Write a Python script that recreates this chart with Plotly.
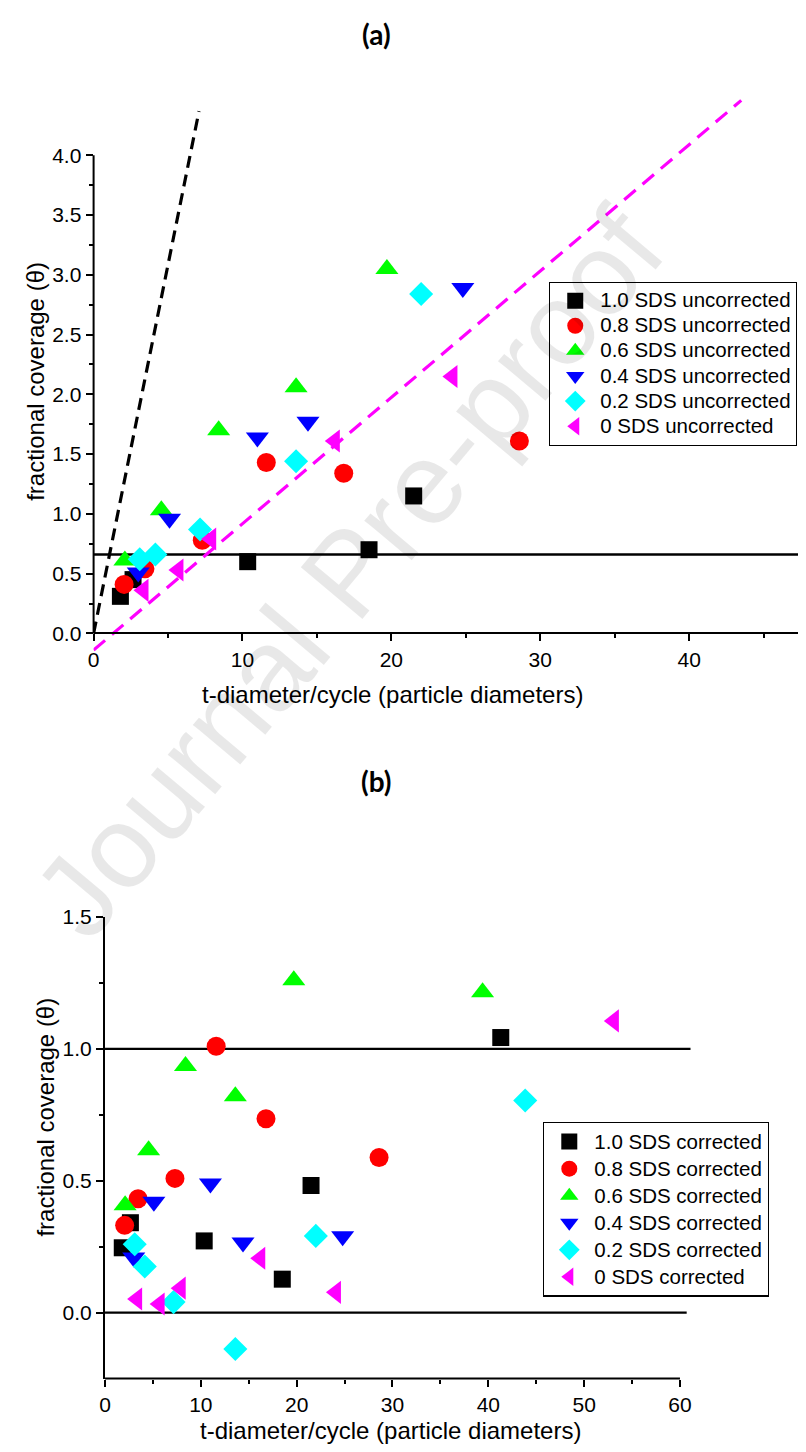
import plotly.graph_objects as go

# The page body has an 8px default margin, so the figure is drawn 8px smaller
# and every window-pixel position below is converted with that offset.
WIN_W, WIN_H = 806, 1452
OFF = 8
W, H = WIN_W - OFF, WIN_H - OFF

# ---------------- data ----------------
# x: t-diameter/cycle (particle diameters), shared by both panels
x_sds10 = [1.8, 2.65, 10.35, 18.5, 21.5, 41.3]
x_sds08 = [2.05, 3.45, 7.3, 11.6, 16.8, 28.6]
x_sds06 = [2.1, 4.55, 8.4, 13.6, 19.7, 39.4]
x_sds04 = [3.0, 5.1, 11.0, 14.4, 24.8]
x_sds02 = [3.1, 4.15, 7.15, 13.6, 22.0, 43.85]
x_sds00 = [3.35, 5.7, 7.9, 16.2, 24.1, 53.1]

# panel (a): uncorrected fractional coverage (points visible inside the axes)
ya_sds10 = [0.31, 0.45, 0.60, 0.70, 1.15]
ya_sds08 = [0.41, 0.54, 0.78, 1.43, 1.34, 1.61]
ya_sds06 = [0.61, 1.03, 1.70, 2.06, 3.05]
ya_sds04 = [0.51, 0.96, 1.64, 1.77, 2.89]
ya_sds02 = [0.62, 0.66, 0.87, 1.44, 2.84]
ya_sds00 = [0.36, 0.53, 0.79, 1.61, 2.15]

# panel (b): corrected fractional coverage
yb_sds10 = [0.246, 0.341, 0.272, 0.127, 0.482, 1.043]
yb_sds08 = [0.331, 0.432, 0.509, 1.01, 0.735, 0.588]
yb_sds06 = [0.407, 0.616, 0.935, 0.82, 1.26, 1.215]
yb_sds04 = [0.209, 0.42, 0.49, 0.266, 0.29]
yb_sds02 = [0.259, 0.175, 0.04, -0.138, 0.291, 0.804]
yb_sds00 = [0.052, 0.033, 0.093, 0.206, 0.077, 1.106]

series_labels = ["1.0 SDS", "0.8 SDS", "0.6 SDS", "0.4 SDS", "0.2 SDS", "0 SDS"]

# reference / guide lines
guide_black_x = [0, 7.08]
guide_black_y = [0, 4.37]
fit_magenta_x = [0, 43.5]
fit_magenta_y = [-0.14, 4.46]
level_a_x = [0, 47.85]
level_a_y = [0.66, 0.66]
level_b1_x = [0, 61.1]
level_b1_y = [1.0, 1.0]
level_b0_x = [0, 60.7]
level_b0_y = [0.0, 0.0]

# tick labels
xa_ticks = [0, 10, 20, 30, 40]
xa_minor = [5, 15, 25, 35, 45]
ya_ticks = [0, 0.5, 1.0, 1.5, 2.0, 2.5, 3.0, 3.5, 4.0]
ya_minor = [0.25, 0.75, 1.25, 1.75, 2.25, 2.75, 3.25, 3.75]
xb_ticks = [0, 10, 20, 30, 40, 50, 60]
xb_minor = [5, 15, 25, 35, 45, 55]
yb_ticks = [0, 0.5, 1.0, 1.5]
yb_minor = [0.25, 0.75, 1.25]

# ---------------- styling ----------------
colors = ["#000000", "#FF0000", "#00FF00", "#0000FF", "#00FFFF", "#FF00FF"]
symbols = ["square", "circle", "triangle-up", "triangle-down", "diamond", "triangle-left"]
sizes = [17, 19, 20, 20, 18.5, 20]
FONT = "Liberation Sans, Arial, sans-serif"
LEGEND_TEXT_PX = 20.5

xs = [x_sds10, x_sds08, x_sds06, x_sds04, x_sds02, x_sds00]
yas = [ya_sds10, ya_sds08, ya_sds06, ya_sds04, ya_sds02, ya_sds00]
ybs = [yb_sds10, yb_sds08, yb_sds06, yb_sds04, yb_sds02, yb_sds00]


def px_x(p):
    return min(1.0, max(0.0, (p - OFF) / W))


def px_y(p):
    return min(1.0, max(0.0, 1 - (p - OFF) / H))


def legend_name(label):
    # text drawn at LEGEND_TEXT_PX while the legend row spacing follows the legend font size
    return '<span style="font-size:%spx">%s</span>' % (LEGEND_TEXT_PX, label)


fig = go.Figure()

# panel (a) lines
fig.add_trace(go.Scatter(x=level_a_x, y=level_a_y, mode="lines", line=dict(color="black", width=2.6),
                         xaxis="x", yaxis="y", showlegend=False, hoverinfo="skip"))
fig.add_trace(go.Scatter(x=guide_black_x, y=guide_black_y, mode="lines",
                         line=dict(color="black", width=3.2, dash="12px,7px"),
                         xaxis="x", yaxis="y", showlegend=False, hoverinfo="skip"))
fig.add_trace(go.Scatter(x=fit_magenta_x, y=fit_magenta_y, mode="lines",
                         line=dict(color="#FF00FF", width=3.2, dash="15px,9px"),
                         xaxis="x", yaxis="y", showlegend=False, hoverinfo="skip"))
# panel (b) lines
fig.add_trace(go.Scatter(x=level_b1_x, y=level_b1_y, mode="lines", line=dict(color="black", width=2.2),
                         xaxis="x2", yaxis="y2", showlegend=False, hoverinfo="skip"))
fig.add_trace(go.Scatter(x=level_b0_x, y=level_b0_y, mode="lines", line=dict(color="black", width=2.2),
                         xaxis="x2", yaxis="y2", showlegend=False, hoverinfo="skip"))

for i in range(6):
    ya = yas[i]
    fig.add_trace(go.Scatter(
        x=xs[i][:len(ya)], y=ya, mode="markers", name=legend_name(series_labels[i] + " uncorrected"),
        marker=dict(symbol=symbols[i], size=sizes[i], color=colors[i], line=dict(width=0)),
        xaxis="x", yaxis="y", legend="legend", cliponaxis=False))
for i in range(6):
    yb = ybs[i]
    fig.add_trace(go.Scatter(
        x=xs[i][:len(yb)], y=yb, mode="markers", name=legend_name(series_labels[i] + " corrected"),
        marker=dict(symbol=symbols[i], size=sizes[i], color=colors[i], line=dict(width=0)),
        xaxis="x2", yaxis="y2", legend="legend2", cliponaxis=False))

tickfont = dict(family=FONT, size=21, color="black")
common = dict(showgrid=False, zeroline=False, ticks="outside", ticklen=7, tickwidth=2,
              tickcolor="black", tickfont=tickfont, linecolor="black", linewidth=2)

# panel (a) geometry (window pixels)
a_left, a_right = 88.2, 806
a_top, a_bot = 84.25, 645.8
a_zero = 626.5
# panel (b) geometry (window pixels)
b_left, b_right = 99.7, 690.6
b_top, b_bot = 912.5, 1378.0

fig.update_layout(
    width=W, height=H, margin=dict(l=0, r=0, t=0, b=0),
    paper_bgcolor="white", plot_bgcolor="white",
    xaxis=dict(domain=[px_x(a_left), px_x(a_right)], range=[0, 47.85], anchor="free",
               position=px_y(a_zero), showline=True, tickvals=xa_ticks,
               ticktext=[str(v) for v in xa_ticks],
               minor=dict(tickvals=xa_minor, ticks="outside", ticklen=4, tickwidth=2, tickcolor="black"),
               **common),
    yaxis=dict(domain=[px_y(a_bot), px_y(a_top)], range=[-0.16, 4.5], anchor="x",
               showline=False, tickvals=ya_ticks, ticktext=["%.1f" % v for v in ya_ticks],
               minor=dict(tickvals=ya_minor, ticks="outside", ticklen=4, tickwidth=2, tickcolor="black"),
               **common),
    xaxis2=dict(domain=[px_x(b_left), px_x(b_right)], range=[0, 61.2], anchor="y2",
                showline=False, tickvals=xb_ticks, ticktext=[str(v) for v in xb_ticks],
                minor=dict(tickvals=xb_minor, ticks="outside", ticklen=4, tickwidth=2, tickcolor="black"),
                **common),
    yaxis2=dict(domain=[px_y(b_bot), px_y(b_top)], range=[-0.25, 1.5], anchor="x2",
                showline=True, tickvals=yb_ticks, ticktext=["%.1f" % v for v in yb_ticks],
                minor=dict(tickvals=yb_minor, ticks="outside", ticklen=4, tickwidth=2, tickcolor="black"),
                **common),
    legend=dict(x=px_x(547), y=px_y(272), xanchor="left", yanchor="top",
                bordercolor="black", borderwidth=1.3, bgcolor="white",
                font=dict(family=FONT, size=17, color="black"), tracegroupgap=0, itemwidth=40),
    legend2=dict(x=px_x(541), y=px_y(1119), xanchor="left", yanchor="top",
                 bordercolor="black", borderwidth=1.3, bgcolor="white",
                 font=dict(family=FONT, size=18.5, color="black"), tracegroupgap=0, itemwidth=40),
    shapes=[
        # y axis line of panel (a): from 0 to 4.0
        dict(type="line", xref="paper", yref="y", x0=px_x(a_left), x1=px_x(a_left), y0=0, y1=4.0,
             line=dict(color="black", width=2)),
        # x axis line of panel (b): from 0 to 60
        dict(type="line", xref="x2", yref="paper", x0=0, x1=60, y0=px_y(b_bot), y1=px_y(b_bot),
             line=dict(color="black", width=2)),
    ],
)

title_font = dict(family="Lato, Open Sans, sans-serif", size=28, color="black", weight="bold")
axis_title_font = dict(family=FONT, size=24, color="black")
annotations = [
    dict(text="(a)", x=px_x(373), y=px_y(22), xref="paper", yref="paper", showarrow=False,
         font=title_font, xanchor="center", yanchor="middle"),
    dict(text="(b)", x=px_x(373), y=px_y(775), xref="paper", yref="paper", showarrow=False,
         font=title_font, xanchor="center", yanchor="middle"),
    dict(text="t-diameter/cycle (particle diameters)", x=px_x(389), y=px_y(688), xref="paper", yref="paper",
         showarrow=False, font=axis_title_font, xanchor="center", yanchor="middle"),
    dict(text="t-diameter/cycle (particle diameters)", x=px_x(387), y=px_y(1430), xref="paper", yref="paper",
         showarrow=False, font=axis_title_font, xanchor="center", yanchor="middle"),
    dict(text="fractional coverage (\u03b8)", x=px_x(30), y=px_y(372), xref="paper", yref="paper",
         showarrow=False, font=axis_title_font, textangle=-90, xanchor="center", yanchor="middle"),
    dict(text="fractional coverage (\u03b8)", x=px_x(40), y=px_y(1114), xref="paper", yref="paper",
         showarrow=False, font=axis_title_font, textangle=-90, xanchor="center", yanchor="middle"),
    # journal watermark
    dict(text="Journal Pre-proof", x=px_x(345), y=px_y(565), xref="paper", yref="paper",
         showarrow=False, textangle=-50, xanchor="center", yanchor="middle",
         font=dict(family=FONT, size=117, color="rgba(0,0,0,0.09)")),
]
fig.update_layout(annotations=annotations)

fig.write_html("out.html")
